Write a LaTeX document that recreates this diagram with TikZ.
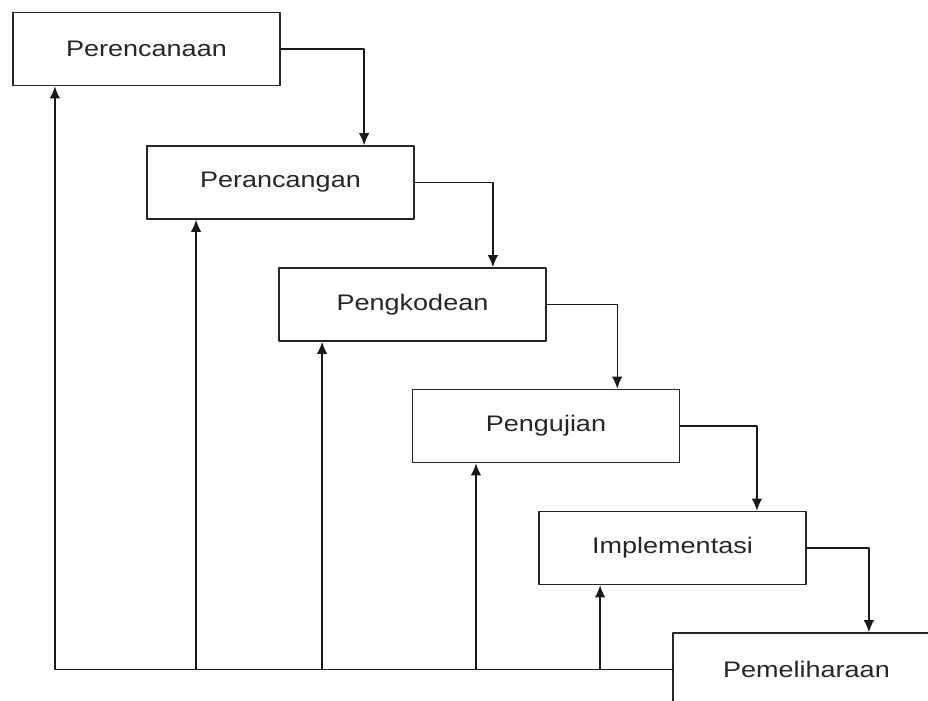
\documentclass[tikz,border=0pt]{standalone}
\usepackage{fontspec}
\setmainfont{Liberation Sans}
\usetikzlibrary{arrows.meta}
\newcommand{\stretchtxt}[1]{\scalebox{1.2}[1]{#1}}

\begin{document}
\begin{tikzpicture}
    [x=0.025cm,y=-0.025cm, line cap=round, line join=round,
     phase/.style={draw=black!85, line width=1.1pt, fill=white, minimum width=6.675cm,
       minimum height=1.825cm, inner sep=0pt, text=black!85,
       font=\fontsize{16}{19}\selectfont},
     flow/.style={-{Latex[length=3mm,width=2.6mm]}, draw=black!90, line width=1pt}]
\useasboundingbox (0,0) rectangle (928,700);
\clip (0,0) rectangle (928,700);

%the phases
 \node[phase] (plan)   at (146.5,49)   {\stretchtxt{Perencanaan}};
 \node[phase] (design) at (280.5,182.5) {\stretchtxt{Perancangan}};
 \node[phase] (code)   at (412.5,304.5) {\stretchtxt{Pengkodean}};
 \node[phase] (test)   at (546,426)    {\stretchtxt{Pengujian}};
 \node[phase] (impl)   at (672.5,548)  {\stretchtxt{Implementasi}};
 \node[phase] (maint)  at (806.5,669.5) {\stretchtxt{Pemeliharaan}};

%going down the steps
 \draw[flow] (plan.east)   -| ([xshift=2.09cm]design.north);
 \draw[flow] (design.east) -| ([xshift=2.01cm]code.north);
 \draw[flow] (code.east)   -| ([xshift=1.78cm]test.north);
 \draw[flow] (test.east)   -| ([xshift=2.11cm]impl.north);
 \draw[flow] (impl.east)   -| ([xshift=1.56cm]maint.north);

%feedback back to every phase
 \draw[flow] (maint.west) -| ([xshift=-2.29cm]plan.south);
 \draw[flow] ([xshift=-2.11cm]design.south |- maint.west) -- ([xshift=-2.11cm]design.south);
 \draw[flow] ([xshift=-2.26cm]code.south |- maint.west) -- ([xshift=-2.26cm]code.south);
 \draw[flow] ([xshift=-1.75cm]test.south |- maint.west) -- ([xshift=-1.75cm]test.south);
 \draw[flow] ([xshift=-1.81cm]impl.south |- maint.west) -- ([xshift=-1.81cm]impl.south);

\end{tikzpicture}
\end{document}
